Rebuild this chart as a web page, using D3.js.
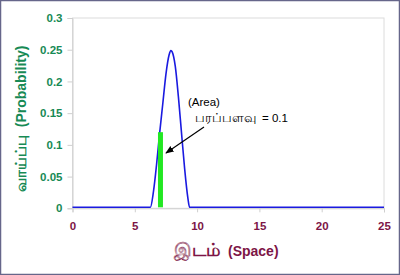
<!DOCTYPE html>
<html>
<head>
<meta charset="utf-8">
<script src="https://cdn.jsdelivr.net/npm/d3@7"></script>
<style>
  body { margin: 0; background: #fff; }
  svg { display: block; font-family: Arial, "Liberation Sans", "Noto Sans", sans-serif; }
</style>
</head>
<body>
<script>
// curve
var xs = [0, 6.25, 6.5, 6.75, 7.0, 7.25, 7.5, 7.75, 7.9, 8.0, 8.25, 8.5, 8.75, 9.0, 9.25, 9.4, 25];
var ys = [0, 0, 0.025, 0.068, 0.118, 0.164, 0.21, 0.24, 0.247, 0.245, 0.222, 0.174, 0.117, 0.061, 0.016, 0, 0];
var areaX = [6.86, 7.26];
var areaY = 0.12;
var xTicks = [0, 5, 10, 15, 20, 25];
var yTicks = [0, 0.05, 0.1, 0.15, 0.2, 0.25, 0.3];

var W = 400, H = 275;
var svg = d3.select("body").append("svg").attr("width", W).attr("height", H);

svg.append("rect")
    .attr("x", 0.5).attr("y", 0.5)
    .attr("width", W - 1).attr("height", H - 1)
    .attr("fill", "#fff").attr("stroke", "#66668a").attr("stroke-width", 1.5);

var x = d3.scaleLinear().domain([0, 25]).range([72.5, 384]);
var y = d3.scaleLinear().domain([0, 0.3]).range([208.3, 18]);

// plot frame
svg.append("rect")
    .attr("x", x(0)).attr("y", y(0.3))
    .attr("width", x(25) - x(0)).attr("height", y(0) - y(0.3))
    .attr("fill", "none").attr("stroke", "#dcdcdc").attr("stroke-width", 1);

var yAxis = svg.append("g")
    .attr("transform", "translate(" + x(0) + ",0)")
    .call(d3.axisLeft(y).tickValues(yTicks).tickSize(5).tickPadding(5)
        .tickFormat(function (d) { return d3.format("")(+d.toFixed(2)); }));
yAxis.select(".domain").attr("stroke", "#cfcfcf");
yAxis.selectAll(".tick line").attr("stroke", "#cfcfcf");
yAxis.selectAll("text")
    .attr("fill", "#178a55").attr("font-size", 11.5).attr("font-weight", "bold")
    .attr("font-family", "Arial, 'Liberation Sans', sans-serif");

var xAxis = svg.append("g")
    .attr("transform", "translate(0," + y(0) + ")")
    .call(d3.axisBottom(x).tickValues(xTicks).tickSize(4).tickPadding(10));
xAxis.select(".domain").attr("stroke", "#cfcfcf");
xAxis.selectAll(".tick line").attr("stroke", "#cfcfcf");
xAxis.selectAll("text")
    .attr("fill", "#7d1546").attr("font-size", 11.5).attr("font-weight", "bold")
    .attr("font-family", "Arial, 'Liberation Sans', sans-serif");

// curve
var pts = xs.map(function (d, i) { return [d, ys[i]]; });
svg.append("path")
    .datum(pts)
    .attr("fill", "none")
    .attr("stroke", "#1a1ae0")
    .attr("stroke-width", 1.6)
    .attr("d", d3.line()
        .x(function (d) { return x(d[0]); })
        .y(function (d) { return y(d[1]) - 1; })
        .curve(d3.curveMonotoneX));

// green area strip
svg.append("rect")
    .attr("x", x(areaX[0])).attr("y", y(areaY))
    .attr("width", x(areaX[1]) - x(areaX[0]))
    .attr("height", y(0) - y(areaY) - 1)
    .attr("fill", "#22e822");

// annotation
var defs = svg.append("defs");
defs.append("marker")
    .attr("id", "arr").attr("viewBox", "0 0 10 10")
    .attr("refX", 9).attr("refY", 5)
    .attr("markerWidth", 7).attr("markerHeight", 7)
    .attr("orient", "auto")
    .append("path").attr("d", "M0,1 L10,5 L0,9 z").attr("fill", "#000");

svg.append("line")
    .attr("x1", 204).attr("y1", 127)
    .attr("x2", 166).attr("y2", 153)
    .attr("stroke", "#000").attr("stroke-width", 1.2)
    .attr("marker-end", "url(#arr)");

svg.append("text")
    .attr("x", 188).attr("y", 106)
    .attr("font-size", 11.5).attr("fill", "#000")
    .text("(Area)");
var ann = svg.append("text")
    .attr("y", 122)
    .attr("fill", "#000");
ann.append("tspan").attr("x", 195).attr("font-size", 13).text("பரப்பளவு");
ann.append("tspan").attr("x", 262).attr("font-size", 11.5).text("= 0.1");

// axis titles
var xt = svg.append("text")
    .attr("y", 256)
    .attr("font-weight", "bold").attr("fill", "#7d1546");
xt.append("tspan").attr("x", 174).attr("font-size", 17.5).text("இடம்");
xt.append("tspan").attr("x", 228).attr("font-size", 14).text("(Space)");

var yt = svg.append("text")
    .attr("transform", "translate(26,192) rotate(-90)")
    .attr("font-weight", "bold").attr("fill", "#178a55")
    .attr("xml:space", "preserve");
yt.append("tspan").attr("font-size", 14.5).text("வாய்ப்பு");
yt.append("tspan").attr("font-size", 14).text("  (Probability)");
</script>
</body>
</html>
